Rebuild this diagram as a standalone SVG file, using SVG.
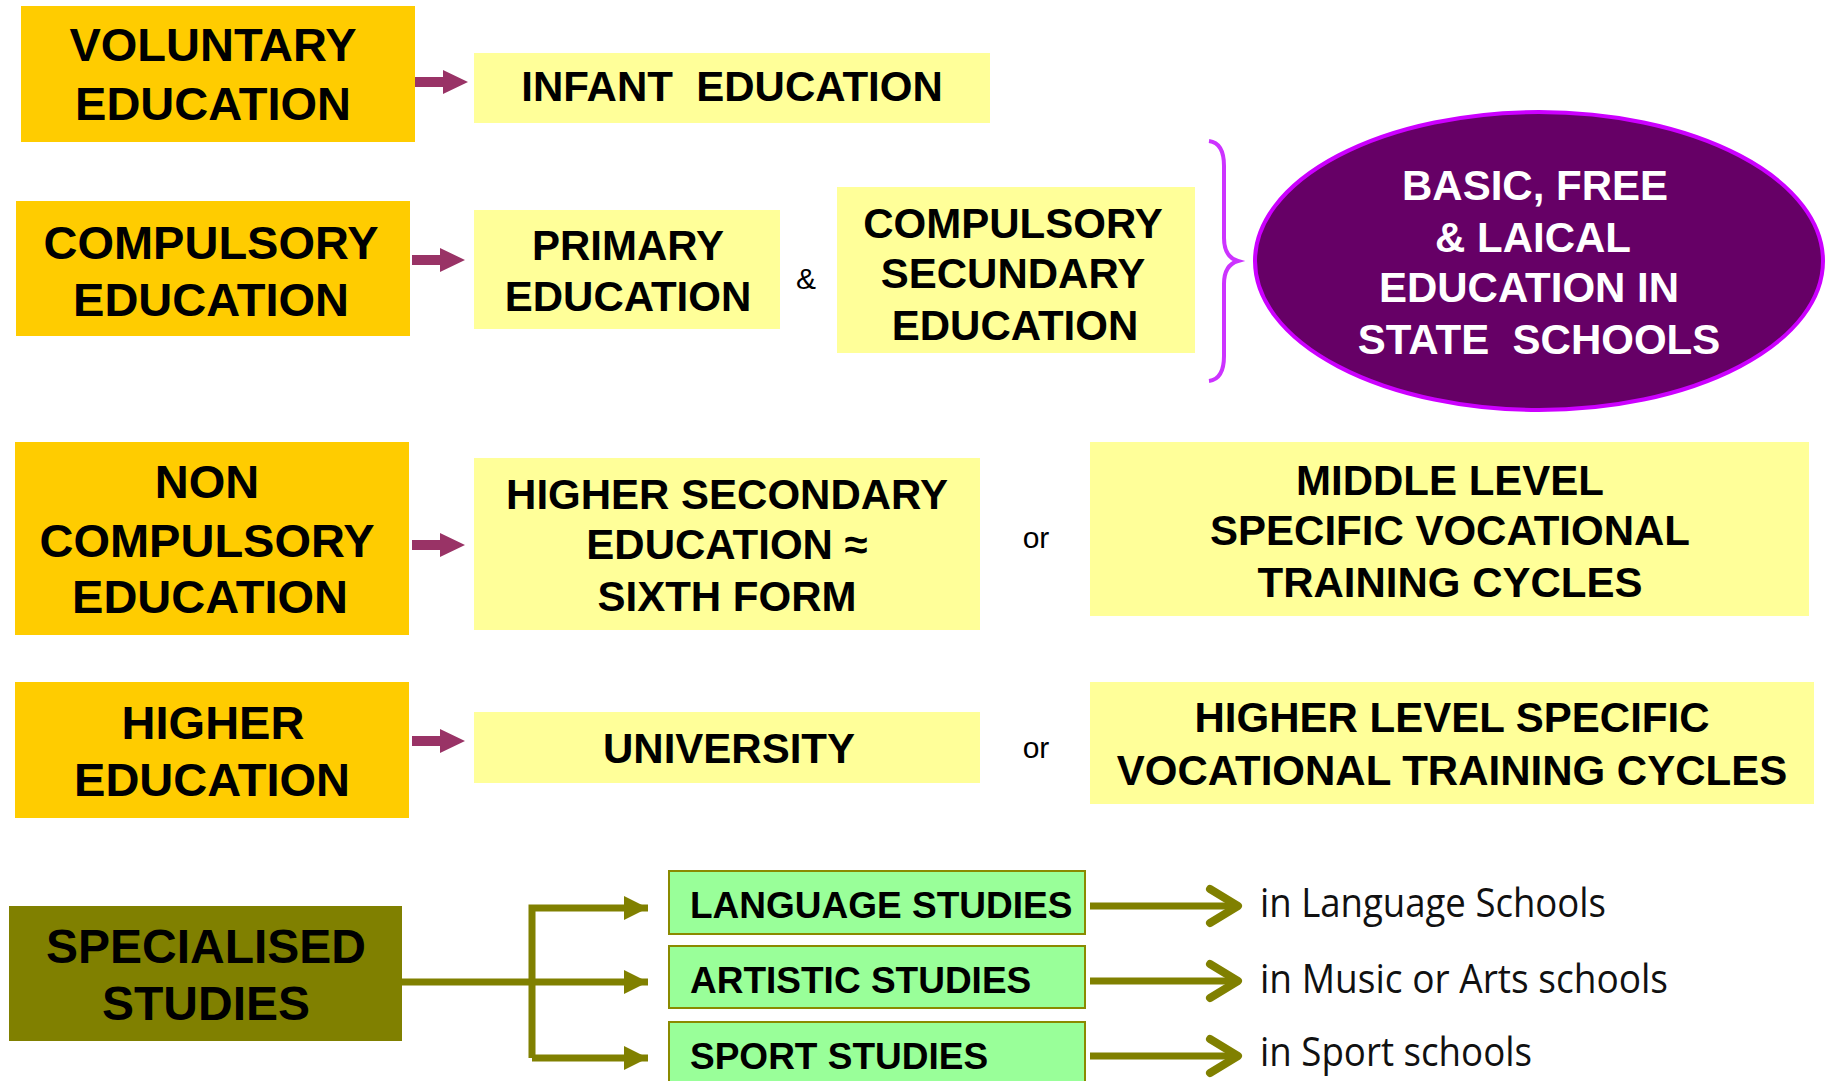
<svg xmlns="http://www.w3.org/2000/svg" width="1832" height="1081" viewBox="0 0 1832 1081">
<style>
.lvl{fill:#FFCC00}
.box{fill:#FFFF99}
.grn{fill:#99FF99;stroke:#8A8A00;stroke-width:2}
.olv{fill:#808000}
.t{font-family:"Liberation Sans",Arial,sans-serif;font-weight:bold;fill:#000;text-anchor:middle}
.t47{font-size:47px}
.t42{font-size:42px}
.tw{font-family:"Liberation Sans",Arial,sans-serif;font-weight:bold;fill:#fff;text-anchor:middle;font-size:42px}
.tg{font-family:"Liberation Sans",Arial,sans-serif;font-weight:bold;fill:#000;font-size:37px}
.r{font-family:"Liberation Sans",Arial,sans-serif;fill:#000;font-size:30px;text-anchor:middle}
.c{font-family:"Open Sans","Noto Sans",sans-serif;fill:#111;font-size:40px}
.mag{fill:#993366}
.ol{stroke:#808000;stroke-width:7;fill:none}
</style>
<defs>
<marker id="tri" markerUnits="userSpaceOnUse" markerWidth="26" markerHeight="28" refX="24" refY="13" orient="auto">
<path d="M0,1 L24,13 L0,25 Z" fill="#808000"/>
</marker>
<marker id="chev" markerUnits="userSpaceOnUse" markerWidth="40" markerHeight="44" refX="33" refY="22" orient="auto">
<path d="M5,5 L33,22 L5,39" fill="none" stroke="#808000" stroke-width="8" stroke-linecap="round" stroke-linejoin="round"/>
</marker>
</defs>

<g id="voluntary">
<rect class="lvl" x="21" y="6" width="394" height="136"/>
<text class="t t47" x="213" y="61">VOLUNTARY</text>
<text class="t t47" x="213" y="120">EDUCATION</text>
</g>
<g id="infant">
<rect class="box" x="474" y="53" width="516" height="70"/>
<text class="t t42" x="732" y="101" xml:space="preserve">INFANT  EDUCATION</text>
</g>

<g id="compulsory">
<rect class="lvl" x="16" y="201" width="394" height="135"/>
<text class="t t47" x="211" y="259">COMPULSORY</text>
<text class="t t47" x="211" y="316">EDUCATION</text>
</g>
<g id="primary">
<rect class="box" x="474" y="210" width="306" height="119"/>
<text class="t t42" x="628" y="260">PRIMARY</text>
<text class="t t42" x="628" y="311">EDUCATION</text>
</g>
<text class="r" x="806" y="289">&amp;</text>
<g id="compulsory-secundary">
<rect class="box" x="837" y="187" width="358" height="166"/>
<text class="t t42" x="1013" y="238">COMPULSORY</text>
<text class="t t42" x="1013" y="288">SECUNDARY</text>
<text class="t t42" x="1015" y="340">EDUCATION</text>
</g>
<g id="brace">
<path d="M1209,141 Q1224,143 1224,166 L1224,238 Q1224,257 1238,261 Q1224,265 1224,284 L1224,356 Q1224,379 1209,381" fill="none" stroke="#CC33FF" stroke-width="4"/>
</g>
<g id="basic-free">
<ellipse cx="1539" cy="261" rx="284" ry="149" fill="#660066" stroke="#CC00FF" stroke-width="4"/>
<text class="tw" x="1535" y="200">BASIC, FREE</text>
<text class="tw" x="1533" y="252">&amp; LAICAL</text>
<text class="tw" x="1529" y="302">EDUCATION IN</text>
<text class="tw" x="1539" y="354" xml:space="preserve">STATE  SCHOOLS</text>
</g>

<g id="non-compulsory">
<rect class="lvl" x="15" y="442" width="394" height="193"/>
<text class="t t47" x="207" y="498">NON</text>
<text class="t t47" x="207" y="557">COMPULSORY</text>
<text class="t t47" x="210" y="613">EDUCATION</text>
</g>
<g id="higher-secondary">
<rect class="box" x="474" y="458" width="506" height="172"/>
<text class="t t42" x="727" y="509">HIGHER SECONDARY</text>
<text class="t t42" x="727" y="559">EDUCATION ≈</text>
<text class="t t42" x="727" y="611">SIXTH FORM</text>
</g>
<text class="r" x="1036" y="548">or</text>
<g id="middle-level">
<rect class="box" x="1090" y="442" width="719" height="174"/>
<text class="t t42" x="1450" y="495">MIDDLE LEVEL</text>
<text class="t t42" x="1450" y="545">SPECIFIC VOCATIONAL</text>
<text class="t t42" x="1450" y="597">TRAINING CYCLES</text>
</g>

<g id="higher-education">
<rect class="lvl" x="15" y="682" width="394" height="136"/>
<text class="t t47" x="213" y="739">HIGHER</text>
<text class="t t47" x="212" y="796">EDUCATION</text>
</g>
<g id="university">
<rect class="box" x="474" y="712" width="506" height="71"/>
<text class="t t42" x="729" y="763">UNIVERSITY</text>
</g>
<text class="r" x="1036" y="758">or</text>
<g id="higher-level">
<rect class="box" x="1090" y="682" width="724" height="122"/>
<text class="t t42" x="1452" y="732">HIGHER LEVEL SPECIFIC</text>
<text class="t t42" x="1452" y="785">VOCATIONAL TRAINING CYCLES</text>
</g>

<g id="specialised">
<rect class="olv" x="9" y="906" width="393" height="135"/>
<text class="t" style="font-size:48px" x="206" y="963">SPECIALISED</text>
<text class="t" style="font-size:48px" x="206" y="1020">STUDIES</text>
</g>
<g id="language">
<rect class="grn" x="669" y="871" width="416" height="63"/>
<text class="tg" x="690" y="918">LANGUAGE STUDIES</text>
</g>
<g id="artistic">
<rect class="grn" x="669" y="946" width="416" height="62"/>
<text class="tg" x="690" y="993">ARTISTIC STUDIES</text>
</g>
<g id="sport">
<rect class="grn" x="669" y="1022" width="416" height="70"/>
<text class="tg" x="690" y="1069">SPORT STUDIES</text>
</g>
<text class="c" x="1260" y="917" textLength="346" lengthAdjust="spacingAndGlyphs">in Language Schools</text>
<text class="c" x="1260" y="993" textLength="408" lengthAdjust="spacingAndGlyphs">in Music or Arts schools</text>
<text class="c" x="1260" y="1066" textLength="272" lengthAdjust="spacingAndGlyphs">in Sport schools</text>

<g id="connectors">
<polygon class="mag" points="415,77 443,77 443,70 468,82 443,94 443,87 415,87"/>
<polygon class="mag" points="412,255 440,255 440,248 465,260 440,272 440,265 412,265"/>
<polygon class="mag" points="412,540 440,540 440,533 465,545 440,557 440,550 412,550"/>
<polygon class="mag" points="412,736 440,736 440,729 465,741 440,753 440,746 412,746"/>
<path class="ol" d="M402,982 L648,982" marker-end="url(#tri)"/>
<path class="ol" d="M532,1058 L532,908 L648,908" marker-end="url(#tri)"/>
<path class="ol" d="M532,1058 L648,1058" marker-end="url(#tri)"/>
<path class="ol" d="M1090,906 L1238,906" marker-end="url(#chev)"/>
<path class="ol" d="M1090,981 L1238,981" marker-end="url(#chev)"/>
<path class="ol" d="M1090,1056 L1238,1056" marker-end="url(#chev)"/>
</g>
</svg>
